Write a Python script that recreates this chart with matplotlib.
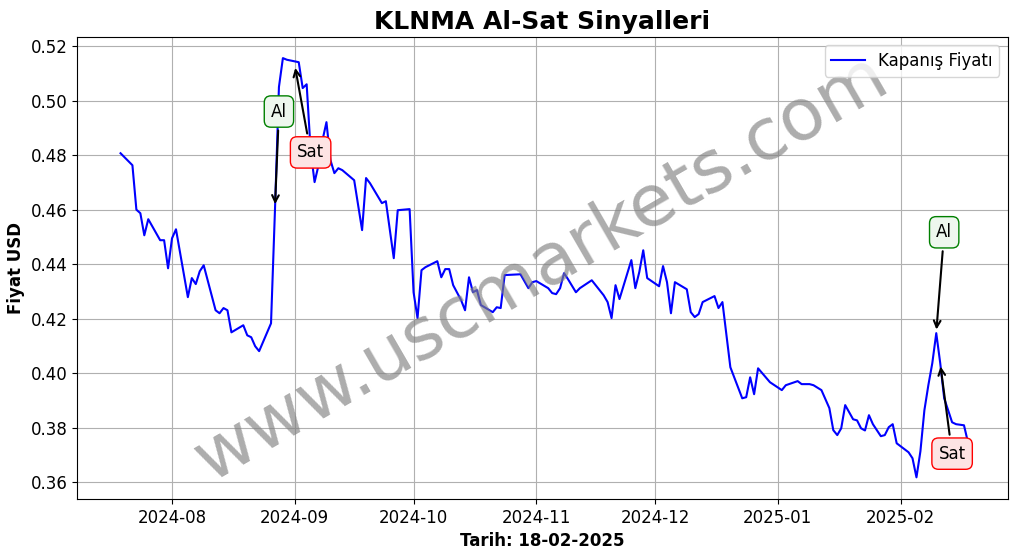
import matplotlib
matplotlib.use("Agg")
import matplotlib.pyplot as plt
import matplotlib.dates as mdates
import pandas as pd

dates = ["2024-07-19","2024-07-22","2024-07-23","2024-07-24","2024-07-25","2024-07-26","2024-07-29","2024-07-30","2024-07-31",
"2024-08-01","2024-08-02","2024-08-05","2024-08-06","2024-08-07","2024-08-08","2024-08-09","2024-08-12","2024-08-13","2024-08-14",
"2024-08-15","2024-08-16","2024-08-19","2024-08-20","2024-08-21","2024-08-22","2024-08-23","2024-08-26","2024-08-27","2024-08-28",
"2024-08-29","2024-08-30","2024-09-02","2024-09-03","2024-09-04","2024-09-05","2024-09-06","2024-09-07","2024-09-08","2024-09-09",
"2024-09-10","2024-09-11","2024-09-12","2024-09-13","2024-09-16","2024-09-18","2024-09-19","2024-09-20","2024-09-23","2024-09-24",
"2024-09-25","2024-09-26","2024-09-27","2024-09-30","2024-10-01","2024-10-02","2024-10-03","2024-10-04","2024-10-07","2024-10-08",
"2024-10-09","2024-10-10","2024-10-11","2024-10-13","2024-10-14","2024-10-15","2024-10-16","2024-10-17","2024-10-18","2024-10-21",
"2024-10-22","2024-10-23","2024-10-24","2024-10-28","2024-10-30","2024-10-31","2024-11-01","2024-11-04","2024-11-05","2024-11-06",
"2024-11-07","2024-11-08","2024-11-09","2024-11-11","2024-11-12","2024-11-15","2024-11-18","2024-11-19","2024-11-20","2024-11-21",
"2024-11-22","2024-11-25","2024-11-26","2024-11-27","2024-11-28","2024-11-29","2024-12-02","2024-12-03","2024-12-04","2024-12-05",
"2024-12-06","2024-12-09","2024-12-10","2024-12-11","2024-12-12","2024-12-13","2024-12-16","2024-12-17","2024-12-18","2024-12-20",
"2024-12-23","2024-12-24","2024-12-25","2024-12-26","2024-12-27","2024-12-30","2025-01-02","2025-01-03","2025-01-06","2025-01-07",
"2025-01-09","2025-01-10","2025-01-12","2025-01-14","2025-01-15","2025-01-16","2025-01-17","2025-01-18","2025-01-20","2025-01-21",
"2025-01-22","2025-01-23","2025-01-24","2025-01-25","2025-01-27","2025-01-28","2025-01-29","2025-01-30","2025-01-31","2025-02-01",
"2025-02-03","2025-02-04","2025-02-05","2025-02-06","2025-02-07","2025-02-08","2025-02-09","2025-02-10","2025-02-11","2025-02-12",
"2025-02-13","2025-02-14","2025-02-15","2025-02-17","2025-02-18"]
prices = [.4807,.4763,.4600,.4587,.4506,.4565,.4488,.4488,.4385,
.4495,.4528,.4279,.4349,.4327,.4374,.4396,.4231,.4220,.4239,
.4231,.4150,.4176,.4139,.4132,.4099,.4081,.4183,.4600,.5050,
.5156,.5150,.5141,.5046,.5060,.4818,.4701,.4763,.4855,.4921,
.4782,.4734,.4752,.4745,.4708,.4525,.4716,.4697,.4624,.4631,
.4525,.4422,.4598,.4602,.4297,.4202,.4378,.4389,.4411,.4352,
.4382,.4382,.4323,.4268,.4231,.4352,.4297,.4305,.4250,.4224,
.4242,.4239,.4360,.4363,.4312,.4334,.4338,.4312,.4294,.4290,
.4312,.4367,.4345,.4297,.4312,.4341,.4286,.4261,.4202,.4323,
.4272,.4415,.4312,.4371,.4451,.4349,.4319,.4393,.4334,.4220,
.4334,.4308,.4224,.4206,.4217,.4261,.4283,.4239,.4261,.4022,
.3908,.3912,.3985,.3923,.4018,.3967,.3938,.3956,.3971,.3960,
.3960,.3956,.3938,.3872,.3791,.3773,.3798,.3883,.3831,.3827,
.3798,.3790,.3846,.3813,.3769,.3773,.3802,.3813,.3743,.3732,
.3710,.3688,.3618,.3714,.3864,.3956,.4037,.4147,.4037,.3908,
.3864,.3820,.3813,.3809,.3747]

buy_dates = ["2024-08-27", "2025-02-10"]
buy_prices = [0.4610, 0.4150]
buy_text = [("2024-08-28", 0.4960), ("2025-02-12", 0.4517)]
sell_dates = ["2024-09-01", "2025-02-11"]
sell_prices = [0.5130, 0.4035]
sell_text = [("2024-09-05", 0.4810), ("2025-02-14", 0.3705)]

x = pd.to_datetime(dates)
fig = plt.figure(figsize=(10.17, 5.54), dpi=100)
ax = fig.add_axes([0.0757, 0.099, 0.915, 0.834])
ax.plot(x, prices, color="blue", lw=1.5, label="Kapanış Fiyatı")

for d, p, (td, tp) in zip(buy_dates, buy_prices, buy_text):
    ax.annotate("Al", xy=(pd.Timestamp(d), p), xytext=(pd.Timestamp(td), tp), fontsize=12, ha="center", va="center",
                bbox=dict(boxstyle="round,pad=0.4", fc="#eef7ee", ec="green"),
                arrowprops=dict(arrowstyle="->", color="black", lw=1.5))
for d, p, (td, tp) in zip(sell_dates, sell_prices, sell_text):
    ax.annotate("Sat", xy=(pd.Timestamp(d), p), xytext=(pd.Timestamp(td), tp), fontsize=12, ha="center", va="center",
                bbox=dict(boxstyle="round,pad=0.4", fc="#fde4e4", ec="red"),
                arrowprops=dict(arrowstyle="->", color="black", lw=1.5))

ax.text(0.5, 0.5, "www.uscmarkets.com", transform=ax.transAxes, fontsize=52, color="gray", alpha=0.65,
        rotation=30, ha="center", va="center")

ax.set_xlim(pd.Timestamp("2024-07-08"), pd.Timestamp("2025-02-28"))
ax.set_ylim(0.3538, 0.5233)
ax.xaxis.set_major_locator(mdates.MonthLocator())
ax.xaxis.set_major_formatter(mdates.DateFormatter("%Y-%m"))
ax.tick_params(labelsize=12)
ax.grid(True)
ax.set_title("KLNMA Al-Sat Sinyalleri", fontsize=18, fontweight="bold")
ax.set_xlabel("Tarih: 18-02-2025", fontsize=12, fontweight="bold")
ax.set_ylabel("Fiyat USD", fontsize=12, fontweight="bold")
ax.legend(loc="upper right", fontsize=12)
fig.savefig("out.png", dpi=100)
